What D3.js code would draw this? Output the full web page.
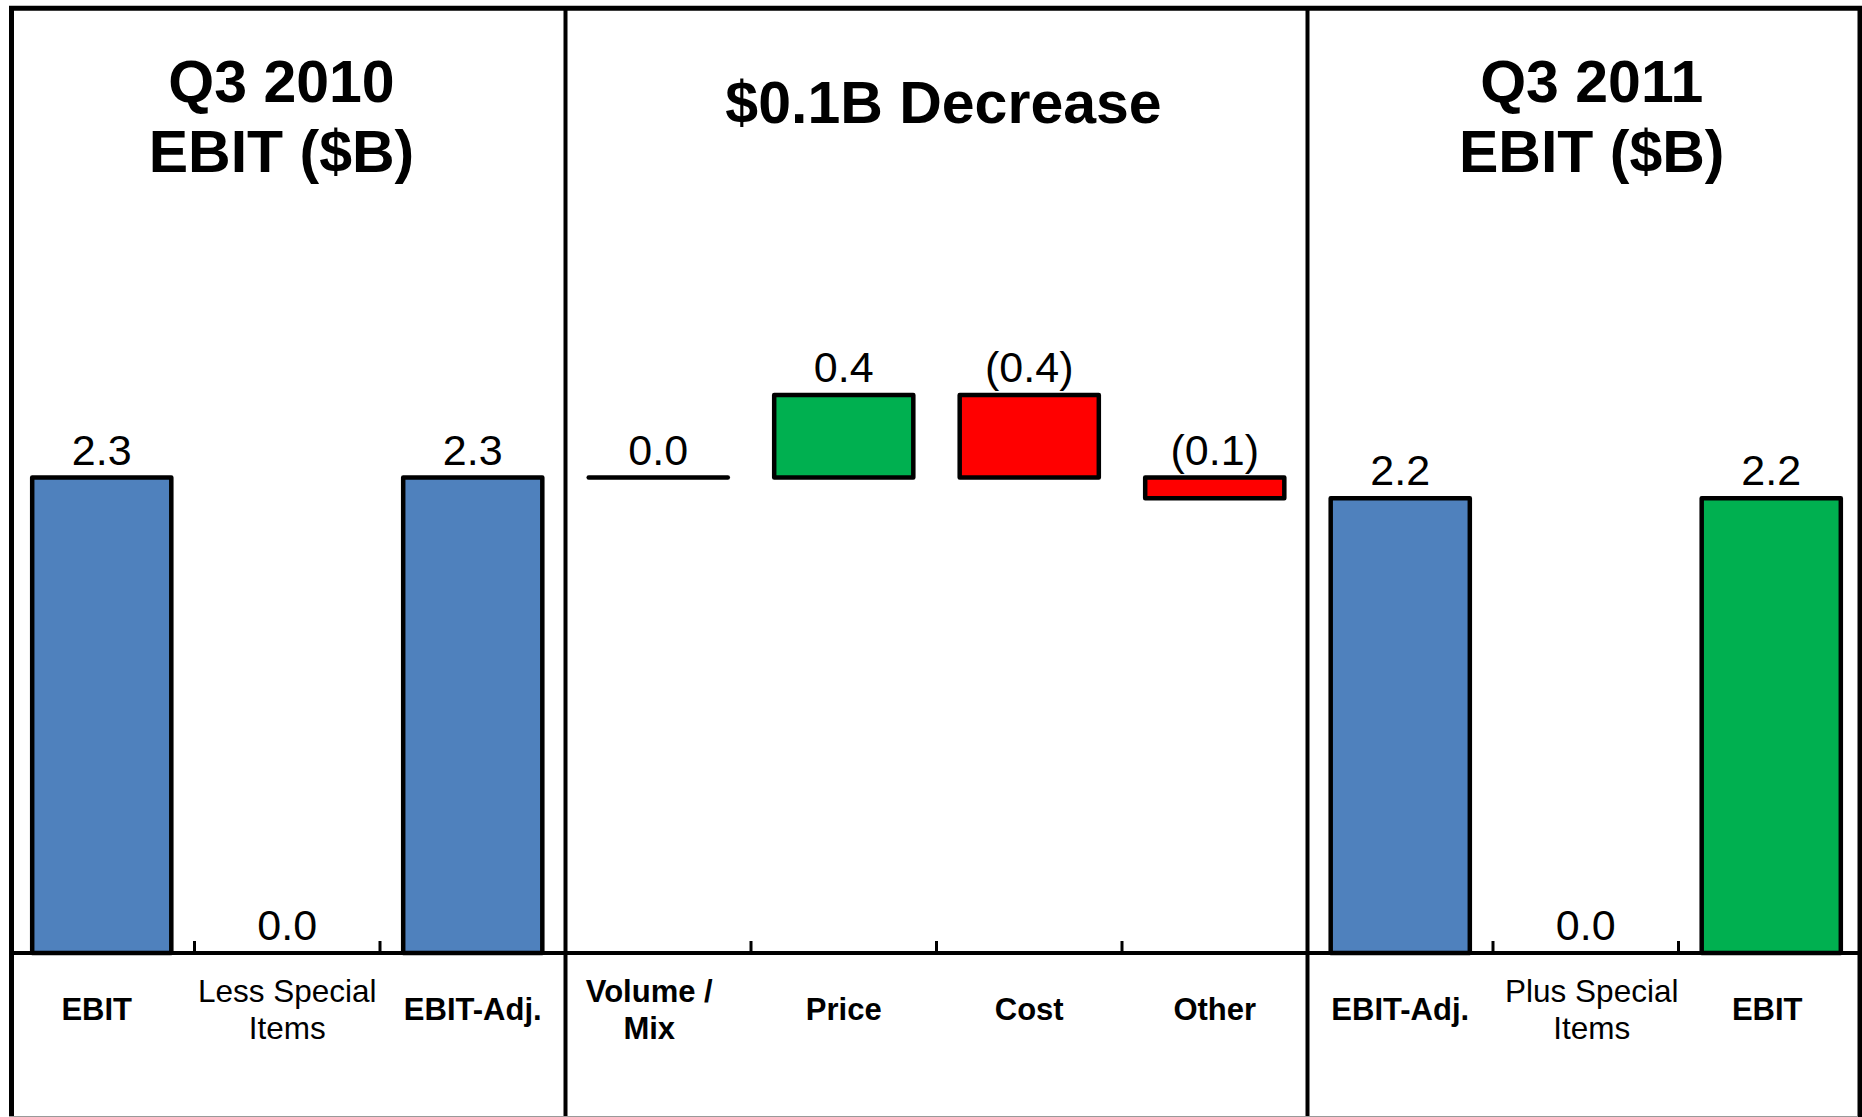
<!DOCTYPE html>
<html>
<head>
<meta charset="utf-8">
<script src="https://cdn.jsdelivr.net/npm/d3@7"></script>
<style>
  html, body { margin: 0; padding: 0; background: #fff; }
  svg { display: block; }
  text { font-family: "Liberation Sans", Arial, sans-serif; fill: #000; }
</style>
</head>
<body>
<svg id="chart" width="1862" height="1117"></svg>
<script>
// ---- data ----
const categoryLabels = ["EBIT", "Less Special\nItems", "EBIT-Adj.", "Volume /\nMix", "Price", "Cost", "Other", "EBIT-Adj.", "Plus Special\nItems", "EBIT"];
const barValues = [2.3, 0.0, 2.3, 0.0, 0.4, -0.4, -0.1, 2.2, 0.0, 2.2];
const barKinds = ["total", "special", "total", "delta", "delta", "delta", "delta", "total", "special", "total"];
const panelTitles = [["Q3 2010", "EBIT ($B)"], ["$0.1B Decrease"], ["Q3 2011", "EBIT ($B)"]];
const panelBreaks = [0, 3, 7, 10];

// ---- layout (pixel nudges, not data) ----
const W = 1862, H = 1117;
const baseY = 953;
const titleNudge = [-7, 7, 8];
const labelNudge = [-5, 0, 0, -9, 0, 0, 0, 0, 6, -4];

const svg = d3.select("#chart");
const n = categoryLabels.length;

const x = d3.scaleBand().domain(d3.range(n))
  .range([9, 1864]).paddingInner(0.25).paddingOuter(0.125);
const y = d3.scaleLinear().domain([0, 4.5]).range([baseY, baseY - 4.5 * 206.7]);

const BLUE = "#4F81BD", GREEN = "#00B050", RED = "#FF0000";

// waterfall geometry
let run = 0;
const bars = barValues.map((v, i) => {
  const k = barKinds[i];
  let y0, y1;
  if (k === "total") { y0 = 0; y1 = v; run = v; }
  else if (k === "special") { y0 = 0; y1 = v; }
  else { y0 = run; y1 = run + v; run = run + v; }
  let color;
  if (k === "total") color = (i === n - 1) ? GREEN : BLUE;
  else color = v >= 0 ? GREEN : RED;
  return { i, v, k, y0, y1, color };
});

const boundary = k => k >= n ? x.range()[1] : x(k) - x.step() * x.paddingInner() / 2;

// bars
const barG = svg.append("g");
bars.forEach(b => {
  const top = y(Math.max(b.y0, b.y1)), bot = y(Math.min(b.y0, b.y1));
  if (b.v === 0) {
    if (b.k === "delta") {
      barG.append("line")
        .attr("x1", x(b.i)).attr("x2", x(b.i) + x.bandwidth())
        .attr("y1", top).attr("y2", top)
        .attr("stroke", "#000").attr("stroke-width", 4.5).attr("stroke-linecap", "round");
    }
  } else {
    barG.append("rect")
      .attr("x", x(b.i)).attr("width", x.bandwidth())
      .attr("y", top).attr("height", bot - top)
      .attr("fill", b.color).attr("stroke", "#000")
      .attr("stroke-width", 4.5).attr("stroke-linejoin", "round");
  }
});

// value labels
const fmt = d3.format(".1f");
svg.append("g").selectAll("text").data(bars).join("text")
  .attr("x", b => x(b.i) + x.bandwidth() / 2)
  .attr("y", b => y(Math.max(b.y0, b.y1)) - 13)
  .attr("text-anchor", "middle")
  .attr("font-size", 43)
  .text(b => b.v < 0 ? "(" + fmt(-b.v) + ")" : fmt(b.v));

// axis line + ticks
svg.append("line").attr("x1", 9).attr("x2", W).attr("y1", baseY).attr("y2", baseY)
  .attr("stroke", "#000").attr("stroke-width", 4);
const tickIdx = d3.range(1, n).filter(k => !panelBreaks.includes(k));
svg.append("g").selectAll("line").data(tickIdx).join("line")
  .attr("x1", k => boundary(k)).attr("x2", k => boundary(k))
  .attr("y1", baseY - 12).attr("y2", baseY)
  .attr("stroke", "#000").attr("stroke-width", 3);

// category labels
const catG = svg.append("g");
categoryLabels.forEach((lab, i) => {
  const lines = lab.split("\n");
  const bold = barKinds[i] !== "special";
  const lh = 37;
  const firstBase = 1020 - (lines.length - 1) * lh / 2;
  const t = catG.append("text")
    .attr("text-anchor", "middle")
    .attr("font-size", bold ? 31 : 31.5)
    .attr("font-weight", bold ? "bold" : "normal");
  lines.forEach((ln, j) => {
    t.append("tspan").attr("x", x(i) + x.bandwidth() / 2 + labelNudge[i])
      .attr("y", firstBase + j * lh).text(ln);
  });
});

// panel dividers
const divs = panelBreaks.slice(1, -1);
svg.append("g").selectAll("line").data(divs).join("line")
  .attr("x1", k => boundary(k)).attr("x2", k => boundary(k))
  .attr("y1", 8).attr("y2", H)
  .attr("stroke", "#000").attr("stroke-width", 4);

// frame
svg.append("path").attr("d", `M11.5,${H} V8.2 H1860 V${H}`)
  .attr("fill", "none").attr("stroke", "#000").attr("stroke-width", 5);
svg.append("line").attr("x1", 9).attr("x2", 1858).attr("y1", H - 0.5).attr("y2", H - 0.5)
  .attr("stroke", "#999").attr("stroke-width", 1);

// panel titles
const titleG = svg.append("g");
panelTitles.forEach((lines, p) => {
  const left = boundary(panelBreaks[p]), right = boundary(panelBreaks[p + 1]);
  const cx = (Math.max(left, 11.5) + Math.min(right, 1860)) / 2 + titleNudge[p];
  const t = titleG.append("text").attr("text-anchor", "middle")
    .attr("font-size", 59).attr("font-weight", "bold");
  lines.forEach((ln, j) => {
    t.append("tspan").attr("x", cx)
      .attr("y", (lines.length === 1 ? 123 : 102) + j * 70).text(ln);
  });
});
</script>
</body>
</html>
